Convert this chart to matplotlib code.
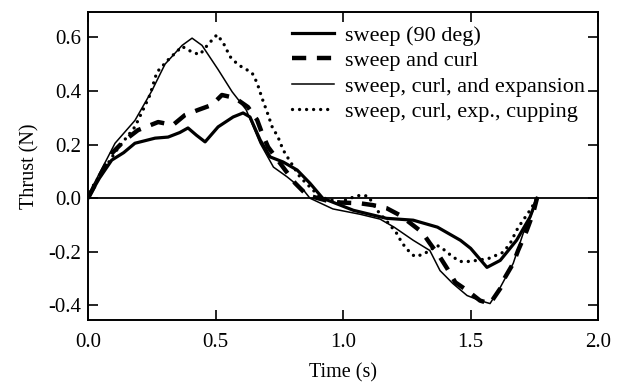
import numpy as np
import matplotlib
matplotlib.use("Agg")
import matplotlib.pyplot as plt

plt.rcParams['font.family'] = ['Liberation Serif', 'DejaVu Serif']
plt.rcParams['axes.unicode_minus'] = False

# sweep (90 deg)
t_sweep = [0.0, 0.045, 0.093, 0.14, 0.184, 0.263, 0.314, 0.36, 0.392, 0.425, 0.459, 0.51, 0.569,
           0.608, 0.635, 0.675, 0.714, 0.765, 0.82, 0.87, 0.92, 1.04, 1.17, 1.275, 1.37,
           1.46, 1.5, 1.564, 1.616, 1.68, 1.733, 1.76]
v_sweep = [0.0, 0.075, 0.142, 0.17, 0.205, 0.224, 0.228, 0.245, 0.262, 0.235, 0.21, 0.266, 0.303,
           0.318, 0.303, 0.217, 0.154, 0.135, 0.105, 0.056, 0.0, -0.045, -0.075, -0.082, -0.108,
           -0.157, -0.187, -0.258, -0.232, -0.157, -0.07, 0.0]

# sweep and curl
t_curl = [0.0, 0.05, 0.094, 0.145, 0.196, 0.275, 0.333, 0.38, 0.431, 0.486, 0.525, 0.576,
          0.627, 0.663, 0.682, 0.706, 0.773, 0.812, 0.859, 0.96, 1.067, 1.118, 1.17, 1.224,
          1.31, 1.34, 1.38, 1.408, 1.44, 1.486, 1.537, 1.576, 1.616, 1.635, 1.667, 1.686,
          1.72, 1.745, 1.76]
v_curl = [0.0, 0.09, 0.168, 0.217, 0.254, 0.284, 0.273, 0.31, 0.329, 0.348, 0.385, 0.374,
          0.34, 0.292, 0.243, 0.191, 0.105, 0.056, 0.011, -0.015, -0.019, -0.026, -0.037, -0.064,
          -0.127, -0.168, -0.22, -0.262, -0.314, -0.344, -0.382, -0.393, -0.337, -0.295, -0.243,
          -0.195, -0.12, -0.056, 0.0]

# sweep, curl, and expansion
t_exp = [0.0, 0.016, 0.06, 0.106, 0.184, 0.25, 0.302, 0.369, 0.408, 0.447, 0.51, 0.565,
         0.62, 0.675, 0.727, 0.78, 0.845, 0.87, 0.96, 1.067, 1.145, 1.2, 1.275, 1.34, 1.38,
         1.43, 1.486, 1.537, 1.576, 1.616, 1.667, 1.706, 1.745, 1.76]
v_exp = [0.0, 0.04, 0.12, 0.205, 0.29, 0.4, 0.5, 0.57, 0.597, 0.57, 0.48, 0.397,
         0.33, 0.205, 0.116, 0.08, 0.03, 0.0, -0.04, -0.06, -0.078, -0.108, -0.157, -0.195,
         -0.27, -0.318, -0.363, -0.382, -0.393, -0.333, -0.243, -0.131, -0.045, 0.0]

# sweep, curl, exp., cupping
t_cup = [0.0, 0.016, 0.04, 0.118, 0.184, 0.216, 0.243, 0.27, 0.314, 0.369, 0.412, 0.439,
         0.47, 0.506, 0.53, 0.557, 0.588, 0.643, 0.663, 0.682, 0.702, 0.722, 0.745, 0.765,
         0.784, 0.831, 0.871, 0.91, 0.988, 1.04, 1.067, 1.098, 1.137, 1.184, 1.21, 1.23,
         1.25, 1.28, 1.314, 1.369, 1.4, 1.427, 1.459, 1.49, 1.525, 1.57, 1.627, 1.655, 1.68,
         1.7, 1.725, 1.74, 1.76]
v_cup = [0.0, 0.04, 0.075, 0.187, 0.266, 0.33, 0.385, 0.47, 0.516, 0.566, 0.543, 0.536,
         0.573, 0.61, 0.58, 0.528, 0.498, 0.468, 0.43, 0.374, 0.322, 0.266, 0.228, 0.18,
         0.15, 0.079, 0.041, 0.004, -0.015, 0.004, 0.011, 0.008, -0.049, -0.1, -0.131, -0.165,
         -0.19, -0.217, -0.21, -0.176, -0.195, -0.217, -0.236, -0.236, -0.232, -0.225, -0.202,
         -0.169, -0.12, -0.09, -0.056, -0.034, 0.0]

labels = ['sweep (90 deg)', 'sweep and curl', 'sweep, curl, and expansion',
          'sweep, curl, exp., cupping']

fig = plt.figure(figsize=(6.33, 3.83), dpi=100)
ax = fig.add_axes([0.139, 0.164, 0.806, 0.805])

ax.axhline(0, color='black', lw=1.3, zorder=1)
ax.plot(t_sweep, v_sweep, color='black', lw=2.3, label=labels[0])
ax.plot(t_curl, v_curl, color='black', lw=3.2, dashes=(3.2, 2.4), label=labels[1])
ax.plot(t_exp, v_exp, color='black', lw=1.1, label=labels[2])
ax.plot(t_cup, v_cup, color='black', lw=2.4, dashes=(0.01, 2.1),
        dash_capstyle='round', label=labels[3])

ax.set_xlim(0, 2.0)
ax.set_ylim(-0.455, 0.695)
ax.set_xticks([0.0, 0.5, 1.0, 1.5, 2.0])
ax.set_yticks([-0.4, -0.2, 0.0, 0.2, 0.4, 0.6])
ax.set_xticklabels(['0.0', '0.5', '1.0', '1.5', '2.0'])
ax.set_yticklabels(['-0.4', '-0.2', '0.0', '0.2', '0.4', '0.6'])
ax.tick_params(direction='in', length=7, width=1.2, top=True, right=True,
               labelsize=15, colors='black')
ax.tick_params(axis='x', pad=9)
ax.tick_params(axis='y', pad=5)
for s in ax.spines.values():
    s.set_linewidth(1.4)

ax.set_xlabel('Time (s)', fontsize=14.5, labelpad=8)
ax.set_ylabel('Thrust (N)', fontsize=14.5, labelpad=6)

ax.legend(loc='upper right', frameon=False, fontsize=16, handlelength=1.9,
          handletextpad=0.5, labelspacing=0.22, borderaxespad=0.2,
          borderpad=0.4, bbox_to_anchor=(1.0, 1.0))

fig.savefig('out.png', dpi=100)
